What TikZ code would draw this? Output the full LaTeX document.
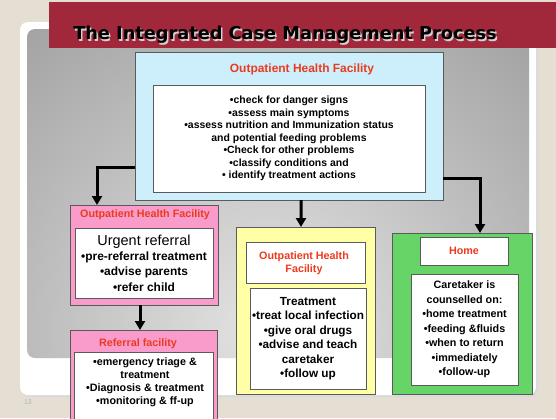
\documentclass[tikz,border=0pt]{standalone}
\usepackage{fontspec}
\setmainfont{Liberation Sans}
\newfontfamily\titlefont{DejaVu Sans}
\usetikzlibrary{arrows.meta}
\definecolor{bgbeige}{HTML}{E5DFD3}
\definecolor{titlered}{HTML}{A1283A}
\definecolor{hdred}{HTML}{EC3A1E}
\definecolor{boxblue}{HTML}{CDEEFB}
\definecolor{boxpink}{HTML}{F99CCB}
\definecolor{boxyellow}{HTML}{FFFFA6}
\definecolor{boxgreen}{HTML}{66D466}
\definecolor{edgegrey}{HTML}{5A5A5A}
\definecolor{greydark}{HTML}{9E9E9E}
\definecolor{greylight}{HTML}{E4E4E4}
\begin{document}
\begin{tikzpicture}[x=1bp,y=-1bp,
  panel/.style={draw=edgegrey, line width=0.7bp, inner sep=0pt, outer sep=0pt},
  wbox/.style={panel, fill=white, align=center},
  hd/.style={text=hdred, font=\bfseries\fontsize{10.8}{13.5}\selectfont, align=center, inner sep=0pt},
  arr/.style={line width=3bp, -{Triangle[width=10bp,length=9bp]}},
]
\clip (0,0) rectangle (556,418);
% background
\fill[bgbeige] (0,0) rectangle (556,418);
\fill[black!15, rounded corners=8bp] (22,24) rectangle (538,397);
\fill[white, rounded corners=8bp] (20,22) rectangle (536,395);
\begin{scope}
  \clip[rounded corners=8bp] (27,29) rectangle (529,358);
  \shade[inner color=greylight, outer color=greydark] (270,330) circle (420);
\end{scope}
\node[text=gray!60, font=\fontsize{7}{8}\selectfont, inner sep=0pt] (pgnum) at (28,402) {13};
% title bar
\fill[titlered] (49,2) rectangle (556,48);
\node[text=gray!35, font=\titlefont\bfseries\fontsize{17.8}{20}\selectfont, inner sep=0pt] (titleshadow) at (286.5,36.5) {The Integrated Case Management Process};
\node[text=black, font=\titlefont\bfseries\fontsize{17.8}{20}\selectfont, inner sep=0pt] (title) at (285,35) {The Integrated Case Management Process};

% top blue box
\node[panel, fill=boxblue, minimum width=308bp, minimum height=148bp] (blueout) at (289,126) {};
\node[hd, font=\bfseries\fontsize{12}{14}\selectfont] (bluehd) at (302,69) {Outpatient Health Facility};
\node[wbox, minimum width=272bp, minimum height=107bp, font=\bfseries\fontsize{10.5}{12.6}\selectfont] (bluein) at (289,138.5) {%
•check for danger signs\\
•assess main symptoms\\
•assess nutrition and Immunization status\\
and potential feeding problems\\
•Check for other problems\\
•classify conditions and\\
• identify treatment actions};

% pink 1
\node[panel, fill=boxpink, minimum width=148bp, minimum height=100bp] (pink1) at (144,255) {};
\node[hd] (pink1hd) at (145,214.5) {Outpatient Health Facility};
\node[wbox, minimum width=138bp, minimum height=70bp, font=\bfseries\fontsize{12}{15.5}\selectfont] (pink1in) at (144,263) {%
{\mdseries\fontsize{14.5}{16}\selectfont Urgent referral}\\
•pre-referral treatment\\
•advise parents\\
•refer child};

% pink 2
\node[panel, fill=boxpink, minimum width=147bp, minimum height=100bp] (pink2) at (143.5,380) {};
\node[hd] (pink2hd) at (138,343.5) {Referral facility};
\node[wbox, minimum width=139bp, minimum height=78bp] (pink2in) at (143.5,391) {};
\node[align=center, inner sep=0pt, font=\bfseries\fontsize{10.8}{13.2}\selectfont] (pink2txt) at (145,382.5) {%
•emergency triage \&\\
treatment\\
•Diagnosis \& treatment\\
•monitoring \& ff-up};

% yellow
\node[panel, fill=boxyellow, minimum width=139bp, minimum height=167bp] (yellow) at (305.5,310.5) {};
\node[wbox, minimum width=119bp, minimum height=41bp] (yellowtop) at (305.5,262.5) {};
\node[hd] (yellowhd) at (304,263) {Outpatient Health\\Facility};
\node[wbox, minimum width=116bp, minimum height=101bp, font=\bfseries\fontsize{11.8}{14.5}\selectfont] (yellowin) at (308,338.5) {%
Treatment\\
•treat local infection\\
•give oral drugs\\
•advise and teach\\
caretaker\\
•follow up};

% green
\node[panel, fill=boxgreen, minimum width=140bp, minimum height=161bp] (green) at (462,313.5) {};
\node[wbox, minimum width=88bp, minimum height=28bp] (home) at (464,251) {};
\node[hd] (homehd) at (464,251) {Home};
\node[wbox, minimum width=107bp, minimum height=111bp, font=\bfseries\fontsize{10.8}{14.5}\selectfont] (greenin) at (464.5,329.5) {%
Caretaker is\\
counselled on:\\
•home treatment\\
•feeding \&fluids\\
•when to return\\
•immediately\\
•follow-up};

% arrows
\draw[arr] ([yshift=-41bp]blueout.west) -| ([xshift=-47bp]pink1.north);
\draw[arr] (blueout.south -| yellow.north) ++(-4.5,0) coordinate (midstart) -- ([xshift=-4.5bp]yellow.north);
\draw[arr] ([yshift=-52bp]blueout.east) -| ([xshift=18bp]green.north);
\draw[arr] ([xshift=-4bp]pink1.south) -- ([xshift=-3.5bp]pink2.north);
\end{tikzpicture}
\end{document}
